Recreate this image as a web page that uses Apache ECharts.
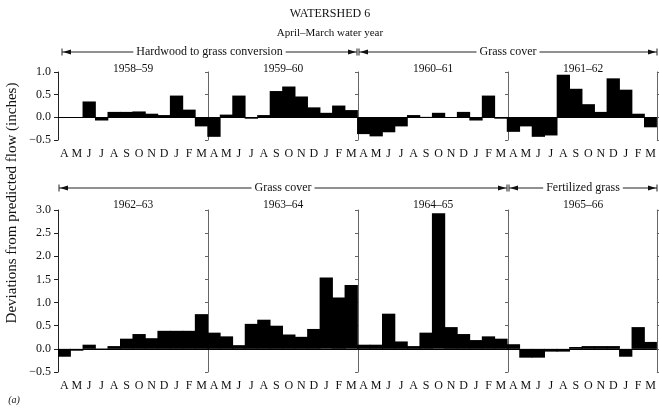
<!DOCTYPE html>
<html><head><meta charset="utf-8">
<script src="https://cdn.jsdelivr.net/npm/echarts@6/dist/echarts.min.js"></script>
<style>html,body{margin:0;padding:0;background:#fff}#c{width:659px;height:408px}</style>
</head><body><div id="c"></div>
<script>
// ---- data ----
const monthLetters = ['A','M','J','J','A','S','O','N','D','J','F','M'];
const topYears = ['1958–59','1959–60','1960–61','1961–62'];
const bottomYears = ['1962–63','1963–64','1964–65','1965–66'];
const wy1958 = [0, 0, 0.35, -0.07, 0.12, 0.12, 0.13, 0.08, 0.05, 0.48, 0.17, -0.20];
const wy1959 = [-0.43, 0.06, 0.48, -0.03, 0.05, 0.58, 0.68, 0.46, 0.22, 0.10, 0.26, 0.16];
const wy1960 = [-0.37, -0.42, -0.33, -0.20, 0.05, 0.01, 0.10, 0.0, 0.12, -0.07, 0.48, -0.03];
const wy1961 = [-0.32, -0.20, -0.43, -0.40, 0.94, 0.63, 0.29, 0.12, 0.86, 0.61, 0.08, -0.22];
const wy1962 = [-0.17, -0.04, 0.09, 0.01, 0.06, 0.22, 0.32, 0.23, 0.39, 0.39, 0.39, 0.75];
const wy1963 = [0.35, 0.27, 0.08, 0.54, 0.63, 0.50, 0.31, 0.26, 0.43, 1.54, 1.11, 1.38];
const wy1964 = [0.09, 0.09, 0.76, 0.16, 0.06, 0.35, 2.93, 0.47, 0.32, 0.19, 0.27, 0.22];
const wy1965 = [0.10, -0.19, -0.19, -0.06, -0.06, 0.04, 0.06, 0.06, 0.06, -0.17, 0.47, 0.15];
const topTicks = {min: -0.5, max: 1.0, interval: 0.5};
const bottomTicks = {min: -0.5, max: 3.0, interval: 0.5};
const topPeriods = [{from: 0, to: 2, text: 'Hardwood to grass conversion'}, {from: 2, to: 4, text: 'Grass cover'}];
const bottomPeriods = [{from: 0, to: 3, text: 'Grass cover'}, {from: 3, to: 4, text: 'Fertilized grass'}];

// ---- layout ----
const FONT = 'Liberation Serif';
const gridLeft = 58, gridW = 600;
const grids = [{left: gridLeft, width: gridW, top: 72, height: 68}, {left: gridLeft, width: gridW, top: 210, height: 162}];
const monthsAll = [].concat(monthLetters, monthLetters, monthLetters, monthLetters);
const cats = monthsAll.map((m, i) => m + '_' + i);
const topData = [].concat(wy1958, wy1959, wy1960, wy1961);
const bottomData = [].concat(wy1962, wy1963, wy1964, wy1965);

const xAxes = [0, 1].map(g => ({
  type: 'category', gridIndex: g, data: cats, boundaryGap: true,
  axisLine: {show: false}, axisTick: {show: false}, splitLine: {show: false},
  axisLabel: {interval: 0, margin: 8, color: '#111', fontFamily: FONT, fontSize: 12,
    formatter: (v) => v.split('_')[0]}
}));

const yAxes = [];
function addAxes(g, t) {
  const base = {type: 'value', gridIndex: g, min: t.min, max: t.max, interval: t.interval, splitLine: {show: false}};
  yAxes.push(Object.assign({}, base, {
    position: 'left', offset: 0,
    axisLine: {show: true, lineStyle: {color: '#222', width: 1}},
    axisTick: {show: true, length: 4, lineStyle: {color: '#222'}},
    axisLabel: {color: '#111', fontFamily: FONT, fontSize: 12, margin: 7,
      formatter: v => (v < 0 ? '−' : '') + Math.abs(v).toFixed(1)}
  }));
  for (let k = 1; k <= 4; k++) {
    yAxes.push(Object.assign({}, base, {
      position: k === 4 ? 'right' : 'left', offset: k === 4 ? 0 : -k * gridW / 4,
      axisLine: {show: true, lineStyle: {color: '#666', width: 1}},
      axisTick: {show: true, length: 3, lineStyle: {color: '#666'}},
      axisLabel: {show: false}
    }));
  }
}
addAxes(0, topTicks);
addAxes(1, bottomTicks);

function barSeries(g, data) {
  return {
    type: 'bar', xAxisIndex: g, yAxisIndex: g * 5, data: data,
    barWidth: gridW / 48 + 0.8, barGap: '-100%',
    itemStyle: {color: '#000'},
    silent: true, animation: false,
    markLine: {silent: true, symbol: 'none', label: {show: false},
      lineStyle: {color: '#000', width: 1, type: 'solid'}, data: [{yAxis: 0}]}
  };
}

// ---- annotations ----
const graphic = [];
const txt = (x, y, s, size, extra) => graphic.push({type: 'text', x: x, y: y,
  style: Object.assign({text: s, fill: '#111', font: size + 'px "' + FONT + '"', textAlign: 'center', textVerticalAlign: 'middle'}, extra || {})});
txt(330, 14, 'WATERSHED 6', 12);
txt(330, 33, 'April–March water year', 11);
function yearLabels(labels, y) {
  labels.forEach((s, i) => txt(gridLeft + (i + 0.5) * gridW / 4, y, s, 11.5));
}
yearLabels(topYears, 69);
yearLabels(bottomYears, 205);
function arrows(periods, y) {
  periods.forEach(p => {
    const x1 = gridLeft + p.from * gridW / 4 + (p.from === 0 && y < 100 ? 4 : 1);
    const x2 = gridLeft + p.to * gridW / 4 - 1;
    graphic.push({type: 'line', shape: {x1: x1, y1: y, x2: x2, y2: y}, style: {stroke: '#222', lineWidth: 1}});
    graphic.push({type: 'line', shape: {x1: x1, y1: y - 3.5, x2: x1, y2: y + 3.5}, style: {stroke: '#222', lineWidth: 1}});
    graphic.push({type: 'line', shape: {x1: x2, y1: y - 3.5, x2: x2, y2: y + 3.5}, style: {stroke: '#222', lineWidth: 1}});
    graphic.push({type: 'polygon', shape: {points: [[x1 + 1, y], [x1 + 9, y - 2.5], [x1 + 9, y + 2.5]]}, style: {fill: '#111'}});
    graphic.push({type: 'polygon', shape: {points: [[x2 - 1, y], [x2 - 9, y - 2.5], [x2 - 9, y + 2.5]]}, style: {fill: '#111'}});
    txt((x1 + x2) / 2, y, p.text, 12, {backgroundColor: '#fff', padding: [0, 3]});
  });
}
arrows(topPeriods, 52);
arrows(bottomPeriods, 188);
graphic.push({type: 'text', x: 12, y: 203, rotation: Math.PI / 2,
  style: {text: 'Deviations from predicted flow (inches)', fill: '#111', font: '15px "' + FONT + '"', textAlign: 'center', textVerticalAlign: 'middle'}});
txt(14, 400, '(a)', 10, {font: 'italic 10px "' + FONT + '"'});

const chart = echarts.init(document.getElementById('c'), null, {renderer: 'canvas'});
chart.setOption({
  animation: false,
  grid: grids,
  xAxis: xAxes,
  yAxis: yAxes,
  series: [barSeries(0, topData), barSeries(1, bottomData)],
  graphic: graphic
});
</script></body></html>
